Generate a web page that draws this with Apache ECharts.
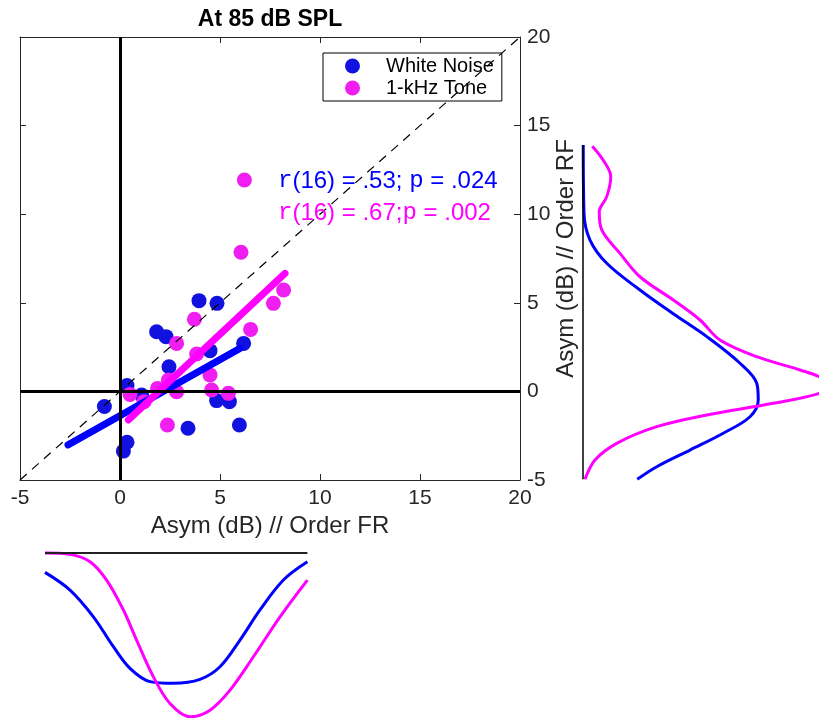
<!DOCTYPE html>
<html><head><meta charset="utf-8">
<script src="https://cdn.jsdelivr.net/npm/echarts@6/dist/echarts.min.js"></script>
<style>html,body{margin:0;padding:0;background:#fff}#c{width:819px;height:718px}</style>
</head><body><div id="c"></div>
<script>
// ---- data ----
const titleText = 'At 85 dB SPL';
const xName = 'Asym (dB) // Order FR';
const yName = 'Asym (dB) // Order RF';
const seriesNames = ['White Noise', '1-kHz Tone'];
const axisMin = -5, axisMax = 20, axisStep = 5;

const whiteNoisePts = [[3.95,5.12],[4.85,4.97],[1.83,3.37],[2.3,3.09],[4.5,2.3],[6.18,2.71],[2.45,1.39],[0.35,0.33],[-0.78,-0.85],[1.08,-0.2],[4.83,-0.52],[5.47,-0.58],[3.4,-2.08],[5.97,-1.9],[0.35,-2.87],[0.17,-3.37]];
const tonePts = [[6.22,11.93],[6.05,7.85],[8.18,5.72],[7.67,4.97],[3.72,4.07],[6.53,3.5],[2.83,2.71],[3.83,2.11],[4.5,0.93],[2.42,0.64],[1.88,0.17],[2.83,-0.02],[4.58,0.08],[5.42,-0.11],[0.5,-0.17],[1.2,-0.58],[2.37,-1.9]];
const whiteNoiseFit = [[-2.6,-3.02],[6.0,2.43]];
const toneFit = [[0.42,-1.61],[8.25,6.66]];
const identityLine = [[-5,-5],[20,20]];
const statsWhite = ['r', '(16) = .53; ', 'p', ' = .024'];
const statsTone = ['r', '(16) = .67;', 'p', ' = .002'];

// right marginal density: [density, asymRF]
const rightWhite = [[0.001,13.9],[0.004,10.05],[0.028,8.54],[0.095,7.23],[0.228,5.72],[0.361,4.38],[0.495,3.09],[0.628,1.59],[0.695,0.46],[0.701,-0.49],[0.668,-1.43],[0.561,-2.36],[0.428,-3.31],[0.295,-4.25],[0.217,-4.96]];
const rightTone = [[0.037,13.84],[0.081,13.05],[0.111,12.12],[0.095,10.99],[0.065,10.14],[0.075,9.11],[0.148,7.79],[0.228,6.47],[0.361,5.16],[0.468,4.03],[0.548,2.9],[0.695,1.96],[0.868,1.21],[0.945,0.83],[0.99,0.36],[0.945,-0.11],[0.761,-0.67],[0.495,-1.33],[0.295,-1.99],[0.135,-2.93],[0.048,-3.87],[0.008,-4.96]];
const rightBase = [[0,13.9],[0,-4.96]];
// bottom marginal density: [asymFR, density]
const bottomWhite = [[-3.75,0.114],[-2.5,0.218],[-1.33,0.375],[-0.33,0.551],[0.5,0.678],[1.5,0.756],[2.67,0.766],[4.0,0.743],[5.0,0.669],[6.0,0.512],[7.0,0.335],[8.17,0.159],[9.37,0.052]];
const bottomTone = [[-3.75,0.0],[-2.5,0.008],[-1.5,0.051],[-0.67,0.159],[0.17,0.335],[0.83,0.512],[1.67,0.728],[2.5,0.885],[3.5,0.963],[4.5,0.924],[5.5,0.806],[6.67,0.61],[8.0,0.375],[9.37,0.159]];
const bottomBase = [[-3.75,0],[9.37,0]];

// ---- chart ----
const FONT = '"Liberation Sans", Arial, Helvetica, sans-serif';
const MONO = '"Liberation Mono", "Courier New", monospace';
const BLUE = '#0000ff', PINK = '#ff00ff';
const axisCol = '#262626';

function mainAxis(extra) {
  return Object.assign({
    type: 'value', gridIndex: 0, min: axisMin, max: axisMax, interval: axisStep,
    axisLine: { show: true, onZero: false, lineStyle: { color: axisCol, width: 1 } },
    axisTick: { show: true, inside: true, length: 6, lineStyle: { color: axisCol } },
    splitLine: { show: false },
    axisLabel: { show: false }
  }, extra);
}
function hiddenAxis(extra) {
  return Object.assign({ type: 'value', show: false, splitLine: { show: false } }, extra);
}
function curve(data, color, xi, yi, w) {
  return { type: 'line', data: data, xAxisIndex: xi, yAxisIndex: yi, smooth: 0.35, symbol: 'none',
    lineStyle: { color: color, width: w }, itemStyle: { color: color }, silent: true, clip: false, z: 3 };
}
const labelStyle = { show: true, fontSize: 21, fontFamily: FONT, color: axisCol, showMinLabel: true, showMaxLabel: true };

const option = {
  animation: false,
  backgroundColor: '#fff',
  title: { text: titleText, left: 265, textAlign: 'center', top: 3,
    textStyle: { fontSize: 23, fontWeight: 'bold', fontFamily: FONT, color: '#000' } },
  legend: {
    data: seriesNames, left: 323, top: 53, orient: 'vertical',
    padding: [3, 8, 3, 22], itemGap: 2, itemWidth: 15, itemHeight: 15, icon: 'circle',
    borderColor: '#000', borderWidth: 1, backgroundColor: '#fff',
    textStyle: { fontSize: 20, lineHeight: 20, fontFamily: FONT, color: '#000', padding: [0, 0, 0, 21] }
  },
  grid: [
    { left: 20, top: 37, width: 500, height: 443 },
    { left: 583, top: 37, width: 236, height: 443 },
    { left: 20, top: 553, width: 500, height: 165 }
  ],
  xAxis: [
    mainAxis({ position: 'bottom', axisLabel: Object.assign({ margin: 8 }, labelStyle),
      name: xName, nameLocation: 'middle', nameGap: 29,
      nameTextStyle: { fontSize: 24, fontFamily: FONT, color: axisCol } }),
    mainAxis({ position: 'top' }),
    hiddenAxis({ gridIndex: 1, min: 0, max: 0.944 }),
    hiddenAxis({ gridIndex: 2, min: axisMin, max: axisMax })
  ],
  yAxis: [
    mainAxis({ position: 'right', axisLabel: Object.assign({ margin: 7 }, labelStyle),
      name: yName, nameLocation: 'middle', nameGap: 34, nameRotate: 90, nameMoveOverlap: false,
      nameTextStyle: { fontSize: 24, fontFamily: FONT, color: axisCol } }),
    mainAxis({ position: 'left' }),
    hiddenAxis({ gridIndex: 1, min: axisMin, max: axisMax }),
    hiddenAxis({ gridIndex: 2, min: 0, max: 0.97, inverse: true })
  ],
  series: [
    { name: seriesNames[0], type: 'scatter', data: whiteNoisePts, xAxisIndex: 0, yAxisIndex: 0,
      symbol: 'circle', symbolSize: 15, itemStyle: { color: '#1212e0', opacity: 1 }, z: 2 },
    { name: seriesNames[1], type: 'scatter', data: tonePts, xAxisIndex: 0, yAxisIndex: 0,
      symbol: 'circle', symbolSize: 15, itemStyle: { color: '#f01ef0', opacity: 1 }, z: 2 },
    { type: 'line', data: whiteNoiseFit, xAxisIndex: 0, yAxisIndex: 0, symbol: 'none', silent: true,
      lineStyle: { color: BLUE, width: 7, cap: 'round' }, z: 3 },
    { type: 'line', data: toneFit, xAxisIndex: 0, yAxisIndex: 0, symbol: 'none', silent: true,
      lineStyle: { color: PINK, width: 7, cap: 'round' }, z: 3 },
    { type: 'line', data: identityLine, xAxisIndex: 0, yAxisIndex: 0, symbol: 'none', silent: true,
      lineStyle: { color: '#000', width: 1.2, type: [9, 7] }, z: 4,
      markLine: { symbol: 'none', silent: true, label: { show: false },
        lineStyle: { color: '#000', width: 3, type: 'solid' },
        data: [{ xAxis: 0 }, { yAxis: 0 }] } },
    curve(rightWhite, BLUE, 2, 2, 3),
    curve(rightTone, PINK, 2, 2, 3),
    curve(rightBase, '#000', 2, 2, 1.5),
    curve(bottomWhite, BLUE, 3, 3, 3),
    curve(bottomTone, PINK, 3, 3, 3),
    curve(bottomBase, '#222', 3, 3, 2)
  ],
  graphic: [
    { type: 'text', x: 278, y: 181, z: 10, silent: true,
      style: { text: '{m|' + statsWhite[0] + '}' + statsWhite[1] + '{m|' + statsWhite[2] + '}' + statsWhite[3],
        fill: BLUE, fontSize: 24, fontFamily: FONT, verticalAlign: 'middle',
        rich: { m: { fontFamily: MONO, fontSize: 24, fill: BLUE } } } },
    { type: 'text', x: 278, y: 213, z: 10, silent: true,
      style: { text: '{m|' + statsTone[0] + '}' + statsTone[1] + '{m|' + statsTone[2] + '}' + statsTone[3],
        fill: PINK, fontSize: 24, fontFamily: FONT, verticalAlign: 'middle',
        rich: { m: { fontFamily: MONO, fontSize: 24, fill: PINK } } } }
  ]
};
const chart = echarts.init(document.getElementById('c'), null, { renderer: 'canvas' });
chart.setOption(option);
</script></body></html>
